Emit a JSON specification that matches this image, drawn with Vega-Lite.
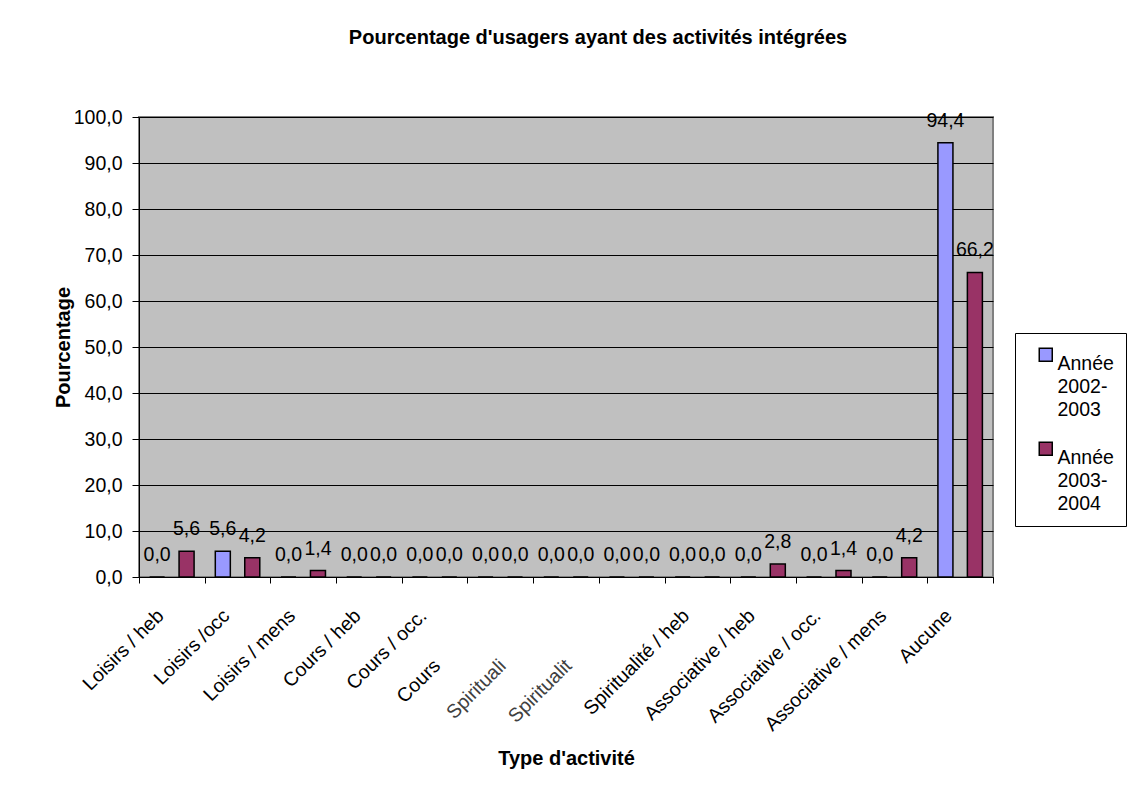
{
  "$schema": "https://vega.github.io/schema/vega-lite/v6.json",
  "width": 854,
  "height": 460,
  "autosize": {"type": "none"},
  "padding": {"left": 139, "top": 117, "right": 140, "bottom": 232},
  "background": "white",
  "title": {
    "text": "Pourcentage d'usagers ayant des activités intégrées",
    "font": "Liberation Sans",
    "fontSize": 20,
    "fontWeight": "bold",
    "color": "black",
    "anchor": "middle",
    "frame": "group",
    "dx": 32,
    "offset": 39,
    "baseline": "bottom"
  },
  "config": {
    "locale": {"number": {"decimal": ",", "thousands": " ", "grouping": [3], "currency": ["", " €"]}},
    "font": "Liberation Sans",
    "view": {"fill": "#C0C0C0", "stroke": "#808080", "strokeWidth": 2},
    "style": {"guide-label": {"lineHeight": 23}}
  },
  "data": {
    "values": [
      {"activite": "Loisirs / heb", "annee": "Année 2002-2003", "pct": 0.0},
      {"activite": "Loisirs / heb", "annee": "Année 2003-2004", "pct": 5.6},
      {"activite": "Loisirs /occ", "annee": "Année 2002-2003", "pct": 5.6},
      {"activite": "Loisirs /occ", "annee": "Année 2003-2004", "pct": 4.2},
      {"activite": "Loisirs / mens", "annee": "Année 2002-2003", "pct": 0.0},
      {"activite": "Loisirs / mens", "annee": "Année 2003-2004", "pct": 1.4},
      {"activite": "Cours / heb", "annee": "Année 2002-2003", "pct": 0.0},
      {"activite": "Cours / heb", "annee": "Année 2003-2004", "pct": 0.0},
      {"activite": "Cours / occ.", "annee": "Année 2002-2003", "pct": 0.0},
      {"activite": "Cours / occ.", "annee": "Année 2003-2004", "pct": 0.0},
      {"activite": "Cours", "annee": "Année 2002-2003", "pct": 0.0},
      {"activite": "Cours", "annee": "Année 2003-2004", "pct": 0.0},
      {"activite": "Spirituali", "annee": "Année 2002-2003", "pct": 0.0},
      {"activite": "Spirituali", "annee": "Année 2003-2004", "pct": 0.0},
      {"activite": "Spiritualit", "annee": "Année 2002-2003", "pct": 0.0},
      {"activite": "Spiritualit", "annee": "Année 2003-2004", "pct": 0.0},
      {"activite": "Spiritualité / heb", "annee": "Année 2002-2003", "pct": 0.0},
      {"activite": "Spiritualité / heb", "annee": "Année 2003-2004", "pct": 0.0},
      {"activite": "Associative / heb", "annee": "Année 2002-2003", "pct": 0.0},
      {"activite": "Associative / heb", "annee": "Année 2003-2004", "pct": 2.8},
      {"activite": "Associative / occ.", "annee": "Année 2002-2003", "pct": 0.0},
      {"activite": "Associative / occ.", "annee": "Année 2003-2004", "pct": 1.4},
      {"activite": "Associative / mens", "annee": "Année 2002-2003", "pct": 0.0},
      {"activite": "Associative / mens", "annee": "Année 2003-2004", "pct": 4.2},
      {"activite": "Aucune", "annee": "Année 2002-2003", "pct": 94.4},
      {"activite": "Aucune", "annee": "Année 2003-2004", "pct": 66.2}
    ]
  },
  "encoding": {
    "x": {
      "field": "activite",
      "type": "nominal",
      "sort": null,
      "scale": {"paddingInner": 0, "paddingOuter": 0},
      "axis": {
        "title": "Type d'activité",
        "titleFont": "Liberation Sans",
        "titleFontSize": 20,
        "titleFontWeight": "bold",
        "titleColor": "black",
        "titleY": 181,
        "titleBaseline": "middle",
        "labelAngle": -45,
        "labelAlign": "right",
        "labelBaseline": "top",
        "labelOffset": {
          "condition": {"test": "datum.value == 'Cours' || datum.value == 'Spirituali' || datum.value == 'Spiritualit'", "value": -70},
          "value": -18
        },
        "labelPadding": {
          "condition": {"test": "datum.value == 'Cours' || datum.value == 'Spirituali' || datum.value == 'Spiritualit'", "value": 73},
          "value": 23
        },
        "labelColor": {
          "condition": {"test": "datum.value == 'Spirituali' || datum.value == 'Spiritualit'", "value": "#404040"},
          "value": "black"
        },
        "labelFontSize": 19.5,
        "labelLimit": 400,
        "labelOverlap": false,
        "tickBand": "extent",
        "tickSize": 6,
        "tickColor": "black",
        "domainColor": "black",
        "domainWidth": 1
      }
    },
    "y": {
      "field": "pct",
      "type": "quantitative",
      "scale": {"domain": [0, 100], "nice": false},
      "axis": {
        "values": [0, 10, 20, 30, 40, 50, 60, 70, 80, 90, 100],
        "format": ".1f",
        "grid": true,
        "gridColor": "black",
        "gridWidth": 1,
        "domainColor": "black",
        "tickColor": "black",
        "tickSize": 7,
        "labelPadding": 10,
        "labelFontSize": 19.5,
        "labelColor": "black",
        "title": "Pourcentage",
        "titleFont": "Liberation Sans",
        "titleFontSize": 20,
        "titleFontWeight": "bold",
        "titleColor": "black",
        "titleX": -76,
        "titleY": 230,
        "titleBaseline": "middle"
      }
    },
    "xOffset": {
      "field": "annee",
      "type": "nominal",
      "scale": {"paddingInner": 0.49, "paddingOuter": 0.36}
    }
  },
  "layer": [
    {
      "mark": {"type": "bar", "stroke": "black", "strokeWidth": 1.5},
      "encoding": {
        "color": {
          "field": "annee",
          "type": "nominal",
          "scale": {"range": ["#9999FF", "#993366"]},
          "legend": {
            "title": null,
            "orient": "none",
            "legendX": 876,
            "legendY": 216,
            "strokeColor": "black",
            "fillColor": "white",
            "padding": 12,
            "symbolType": "square",
            "symbolSize": 169,
            "symbolStrokeColor": "black",
            "symbolStrokeWidth": 1.5,
            "symbolOffset": 9,
            "labelOffset": 2,
            "labelFontSize": 19.5,
            "labelColor": "black",
            "labelBaseline": "top",
            "labelLimit": 200,
            "rowPadding": 19,
            "labelExpr": "split(replace(datum.label, '-', '- '), ' ')"
          }
        }
      }
    },
    {
      "mark": {"type": "text", "baseline": "alphabetic", "dy": -16, "fontSize": 19.5, "color": "black", "font": "Liberation Sans"},
      "encoding": {
        "text": {"field": "pct", "type": "quantitative", "format": ".1f"}
      }
    }
  ]
}
